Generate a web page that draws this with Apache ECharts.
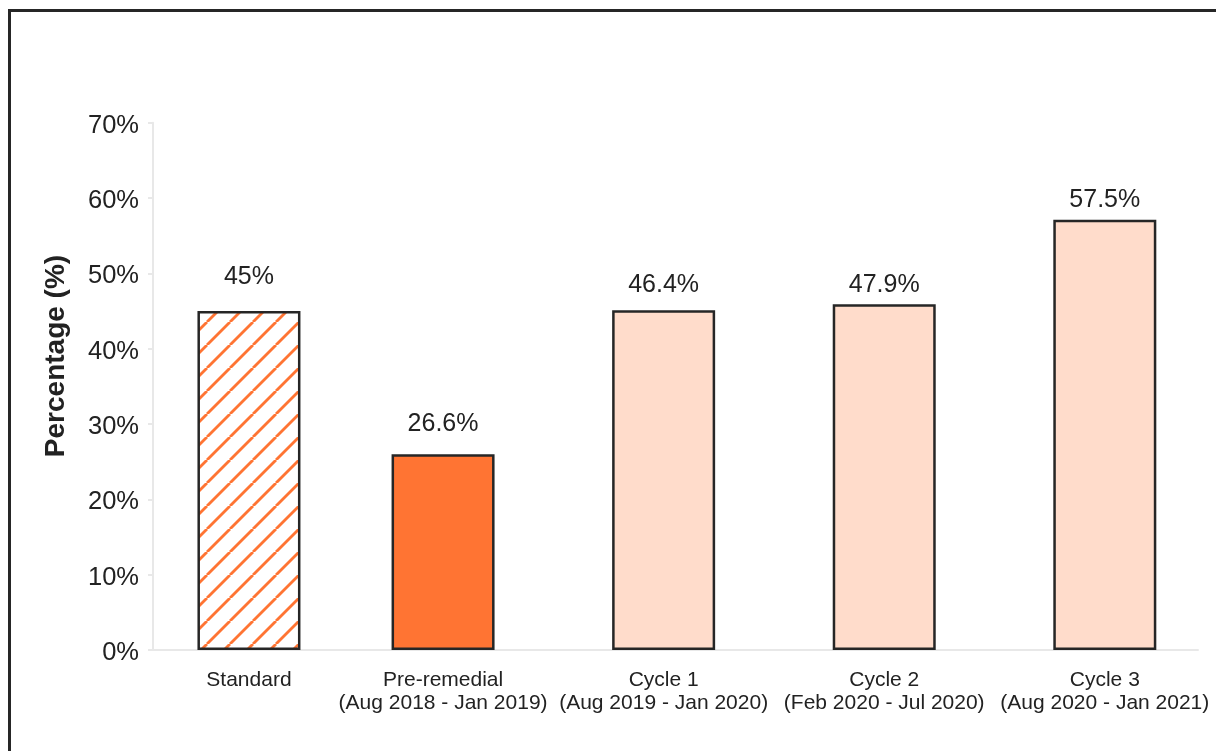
<!DOCTYPE html>
<html>
<head>
<meta charset="utf-8">
<script src="https://cdn.jsdelivr.net/npm/echarts@6/dist/echarts.min.js"></script>
<style>
html,body{margin:0;padding:0;background:#fff;}
#chart{width:1216px;height:751px;}
</style>
</head>
<body>
<div id="chart"></div>
<script>
// ---- data ----
var categories = ['Standard', 'Pre-remedial\n(Aug 2018 - Jan 2019)', 'Cycle 1\n(Aug 2019 - Jan 2020)', 'Cycle 2\n(Feb 2020 - Jul 2020)', 'Cycle 3\n(Aug 2020 - Jan 2021)'];
var xPositions = [0, 0.88, 1.88, 2.88, 3.88];
var barValues = [45, 26, 45.1, 45.9, 57.1];
var valueLabels = ['45%', '26.6%', '46.4%', '47.9%', '57.5%'];
var yTicks = [0, 10, 20, 30, 40, 50, 60, 70];

// ---- styles ----
var FONT = "'Liberation Sans', Arial, sans-serif";
var TEXT = '#222222';
var EDGE = '#262626';
var ORANGE = '#FF7433';
var PEACH = '#FFDCCB';
var labelGaps = [21, 18, 13, 7, 7];

function hatch() {
  var s = 23;
  var c = document.createElement('canvas');
  c.width = s; c.height = s;
  var g = c.getContext('2d');
  g.fillStyle = '#ffffff';
  g.fillRect(0, 0, s, s);
  g.strokeStyle = ORANGE;
  g.lineWidth = 2.8;
  for (var k = -1; k <= 1; k++) {
    g.beginPath();
    g.moveTo(k * s, s);
    g.lineTo(k * s + s, 0);
    g.stroke();
  }
  return c;
}
var fills = [{ image: hatch(), repeat: 'repeat' }, ORANGE, PEACH, PEACH, PEACH];

var chart = echarts.init(document.getElementById('chart'), null, { renderer: 'canvas' });

var barData = barValues.map(function (v, i) {
  return {
    value: [xPositions[i], v],
    itemStyle: { color: fills[i] },
    label: { distance: labelGaps[i] }
  };
});

chart.setOption({
  animation: false,
  backgroundColor: '#ffffff',
  textStyle: { fontFamily: FONT },
  grid: { left: 153, right: 18, top: 122.7, bottom: 101 },
  xAxis: {
    type: 'value',
    min: -0.435,
    max: 4.3025,
    splitLine: { show: false },
    axisTick: { show: false },
    axisLine: { show: true, onZero: false, lineStyle: { color: '#e8e8e8', width: 2 } },
    axisLabel: {
      customValues: xPositions,
      formatter: function (v) {
        var best = 0;
        for (var i = 0; i < xPositions.length; i++) {
          if (Math.abs(xPositions[i] - v) < Math.abs(xPositions[best] - v)) best = i;
        }
        return categories[best];
      },
      fontFamily: FONT,
      fontSize: 21,
      lineHeight: 23,
      color: TEXT,
      margin: 19,
      showMinLabel: true,
      showMaxLabel: true
    }
  },
  yAxis: {
    type: 'value',
    min: yTicks[0],
    max: yTicks[yTicks.length - 1],
    interval: 10,
    splitLine: { show: false },
    axisLine: { show: true, onZero: false, lineStyle: { color: '#e8e8e8', width: 2 } },
    axisTick: { show: true, length: 5, lineStyle: { color: '#e8e8e8', width: 2 } },
    axisLabel: {
      formatter: '{value}%',
      fontFamily: FONT,
      fontSize: 25.5,
      color: TEXT,
      margin: 14,
      verticalAlign: 'top',
      lineHeight: 6
    }
  },
  series: [{
    type: 'bar',
    barWidth: 103,
    data: barData,
    itemStyle: { borderColor: EDGE, borderWidth: 2.5 },
    label: {
      show: true,
      position: 'top',
      fontFamily: FONT,
      fontSize: 25,
      lineHeight: 25,
      color: TEXT,
      formatter: function (p) { return valueLabels[p.dataIndex]; }
    }
  }],
  graphic: [
    {
      type: 'rect',
      shape: { x: 9.5, y: 10.5, width: 1400, height: 1000 },
      style: { fill: null, stroke: EDGE, lineWidth: 3 },
      silent: true
    },
    {
      type: 'text',
      x: 56,
      y: 356,
      rotation: Math.PI / 2,
      style: {
        text: 'Percentage (%)',
        font: 'bold 28px ' + FONT,
        fill: TEXT,
        textAlign: 'center',
        textVerticalAlign: 'middle',
        align: 'center',
        verticalAlign: 'middle'
      }
    }
  ]
});
</script>
</body>
</html>
